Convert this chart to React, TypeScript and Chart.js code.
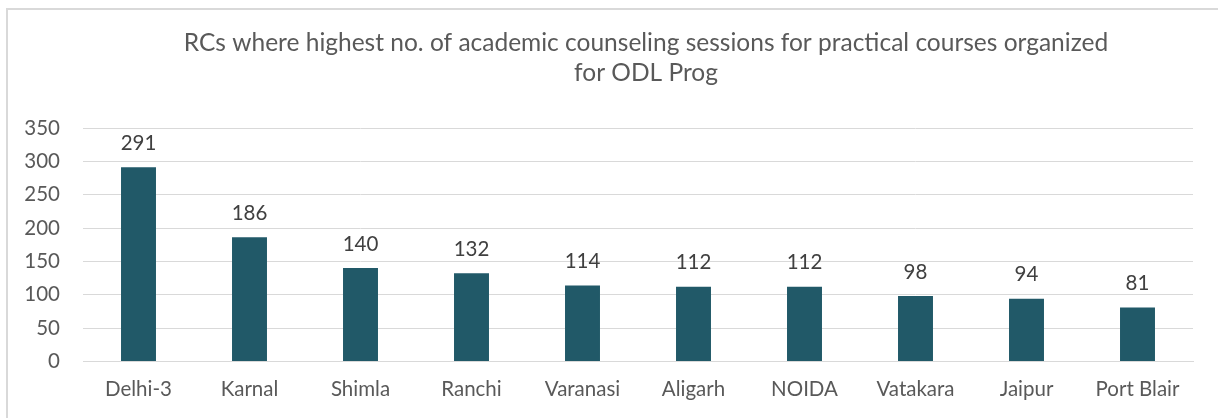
import React, { useEffect, useRef } from "react";
import { Chart, registerables } from "chart.js";

Chart.register(...registerables);

const titleLines = [
  "RCs where highest no. of academic counseling sessions for practical courses organized",
  "for ODL Prog",
];
const categories = ["Delhi-3", "Karnal", "Shimla", "Ranchi", "Varanasi", "Aligarh", "NOIDA", "Vatakara", "Jaipur", "Port Blair"];
const sessions = [291, 186, 140, 132, 114, 112, 112, 98, 94, 81];
const yTicks = [0, 50, 100, 150, 200, 250, 300, 350];

const FONT = "Lato, 'Open Sans', sans-serif";
const TEXT = "#595959";

const titlePlugin = {
  id: "customTitle",
  afterDraw(chart: any) {
    const ctx = chart.ctx;
    ctx.save();
    ctx.font = `24.5px ${FONT}`;
    ctx.fillStyle = TEXT;
    ctx.textAlign = "center";
    ctx.textBaseline = "middle";
    titleLines.forEach((line, i) => ctx.fillText(line, 646, 43 + i * 30));
    ctx.restore();
  },
};

const labelPlugin = {
  id: "valueLabels",
  afterDatasetsDraw(chart: any) {
    const ctx = chart.ctx;
    const meta = chart.getDatasetMeta(0);
    ctx.save();
    ctx.font = `20.5px ${FONT}`;
    ctx.fillStyle = "#404040";
    ctx.textAlign = "center";
    ctx.textBaseline = "middle";
    meta.data.forEach((bar: any, i: number) => {
      ctx.fillText(String(sessions[i]), bar.x, bar.y - 24);
    });
    ctx.restore();
  },
};

export default function App() {
  const ref = useRef<HTMLCanvasElement | null>(null);
  useEffect(() => {
    if (!ref.current) return;
    const chart = new Chart(ref.current, {
      type: "bar",
      data: {
        labels: categories,
        datasets: [
          {
            data: sessions,
            backgroundColor: "#215968",
            categoryPercentage: 1,
            barPercentage: 0.315,
          },
        ],
      },
      options: {
        responsive: false,
        animation: false,
        layout: { padding: { top: 128, right: 25, bottom: 8, left: 0 } },
        plugins: { legend: { display: false }, tooltip: { enabled: false }, title: { display: false } },
        scales: {
          x: {
            grid: { display: false },
            border: { color: "#D9D9D9", width: 1 },
            ticks: { color: TEXT, font: { family: FONT, size: 20.5 }, padding: 8, maxRotation: 0 },
          },
          y: {
            min: 0,
            max: 350,
            afterFit: (s: any) => { s.width = 83; },
            afterBuildTicks: (s: any) => { s.ticks = yTicks.map((v) => ({ value: v })); },
            grid: { color: "#D9D9D9", lineWidth: 1, drawTicks: false },
            border: { display: false },
            ticks: { color: TEXT, font: { family: FONT, size: 20.5 }, padding: 23 },
          },
        },
      },
      plugins: [titlePlugin, labelPlugin],
    });
    return () => chart.destroy();
  }, []);

  return (
    <div style={{ position: "fixed", inset: 0, overflow: "hidden", background: "#fff" }}>
      <div
        style={{
          position: "absolute",
          left: 6,
          top: 8,
          width: 1400,
          height: 600,
          border: "2px solid #D9D9D9",
        }}
      />
      <canvas ref={ref} width={1218} height={418} style={{ position: "absolute", left: 0, top: 0 }} />
    </div>
  );
}
